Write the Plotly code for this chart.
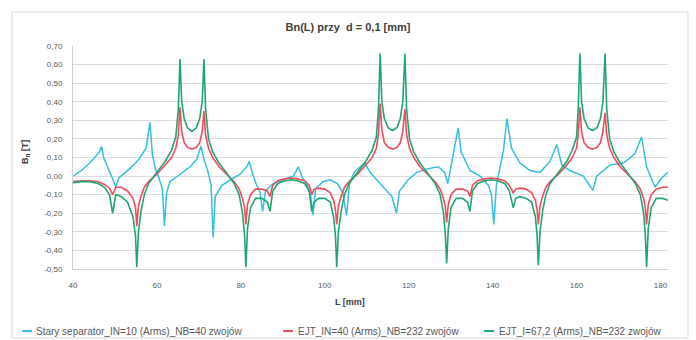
import plotly.graph_objects as go

# ---------------- data ----------------
series_names = [
    "Stary separator_IN=10 (Arms)_NB=40 zwojów",
    "EJT_IN=40 (Arms)_NB=232 zwojów",
    "EJT_I=67,2 (Arms)_NB=232 zwojów",
]

stary_L = [40.0, 42.0, 44.0, 45.5, 46.3, 46.8, 47.3, 48.2, 49.2, 50.2, 50.9, 52.5, 54.5, 56.0,
           57.4, 58.35, 58.9, 59.6, 60.5, 61.3, 61.8, 62.3, 63.1, 65.5, 67.9, 69.5, 70.5, 71.2,
           72.1, 72.9, 73.4, 73.9, 75.5, 77.9, 79.8, 81.4, 82.0, 82.7, 83.6, 84.5, 85.2, 85.9,
           87.7, 90.0, 92.5, 93.7, 94.5, 95.8, 96.6, 97.2, 97.8, 99.5, 101.3, 103.0, 104.3, 105.2,
           105.9, 107.0, 108.4, 109.6, 110.8, 112.0, 114.0, 116.0, 117.1, 117.8, 119.9, 121.9,
           124.6, 127.0, 128.6, 129.3, 129.9, 130.6, 131.2, 131.8, 132.5, 134.6, 137.0, 139.0,
           139.7, 140.3, 140.9, 142.6, 143.4, 144.5, 146.5, 148.9, 151.3, 153.7, 155.3, 156.5,
           158.4, 161.6, 162.8, 163.9, 164.8, 168.0, 171.2, 173.9, 175.5, 176.7, 178.7, 180.3, 181.8]
stary_B = [0.00, 0.03, 0.07, 0.11, 0.13, 0.16, 0.10, 0.05, 0.00, -0.06, -0.01, 0.02, 0.06, 0.10,
           0.15, 0.29, 0.12, 0.04, -0.01, -0.07, -0.27, -0.09, -0.03, 0.01, 0.05, 0.09, 0.16, 0.09,
           0.03, -0.05, -0.33, -0.11, -0.05, -0.015, 0.01, 0.05, 0.08, 0.02, -0.04, -0.08, -0.19, -0.08,
           -0.04, -0.02, 0.00, 0.05, 0.00, -0.05, -0.10, -0.21, -0.07, -0.03, -0.02, -0.04, -0.09, -0.21,
           -0.04, 0.02, 0.05, 0.07, 0.02, -0.01, -0.06, -0.11, -0.20, -0.08, -0.02, 0.02,
           0.04, 0.05, 0.02, -0.04, 0.03, 0.12, 0.18, 0.26, 0.13, 0.03, 0.00, -0.05,
           -0.10, -0.26, -0.05, 0.14, 0.31, 0.15, 0.07, 0.03, 0.02, 0.08, 0.17, 0.06,
           0.03, 0.00, -0.04, -0.077, 0.00, 0.06, 0.07, 0.12, 0.21, 0.05, -0.06, -0.01, 0.02]

ejt_L = [40.0, 42.0, 44.0, 46.0, 47.5, 48.7, 49.45, 50.2, 51.5, 53.0, 54.3, 54.9, 55.2, 55.6,
         56.2, 57.0, 58.0, 60.0, 62.0, 63.5, 64.5, 65.1, 65.5, 65.9, 66.5, 67.3, 68.35, 69.4,
         70.2, 70.8, 71.2, 71.6, 72.3, 73.3, 74.8, 76.5, 78.4, 79.6, 80.4, 80.9, 81.2, 81.6,
         82.3, 83.5, 85.0, 86.3, 86.95, 87.6, 88.8, 90.5, 92.0, 93.5, 95.2, 96.3, 96.9, 97.5,
         98.5, 100.0, 101.3, 102.1, 102.55, 102.85, 103.25, 103.9, 104.7, 105.8, 107.8, 109.8,
         111.3, 112.3, 112.8, 113.2, 113.6, 114.2, 115.1, 116.15, 117.2, 118.0, 118.6, 119.1,
         119.5, 120.2, 121.2, 122.7, 124.4, 126.3, 127.5, 128.3, 128.75, 129.05, 129.45, 130.1,
         131.3, 132.8, 134.0, 134.6, 135.2, 136.4, 138.2, 139.7, 141.2, 142.9, 144.0, 144.9,
         145.5, 146.5, 148.0, 149.3, 150.2, 150.6, 150.9, 151.3, 151.9, 152.7, 153.7, 155.7,
         157.7, 159.0, 160.0, 160.4, 160.8, 161.2, 161.8, 162.7, 163.8, 164.9, 165.7, 166.3,
         166.8, 167.2, 167.9, 168.9, 170.4, 172.1, 174.0, 175.2, 176.0, 176.4, 176.7, 177.1,
         177.8, 179.0, 180.5, 181.8]

ejt40_B = [-0.03, -0.025, -0.025, -0.03, -0.045, -0.065, -0.10, -0.06, -0.06, -0.08, -0.12, -0.17, -0.27, -0.16,
           -0.11, -0.06, -0.03, 0.01, 0.06, 0.10, 0.15, 0.22, 0.37, 0.24, 0.18, 0.155, 0.145, 0.155,
           0.18, 0.24, 0.35, 0.22, 0.15, 0.10, 0.05, 0.01, -0.03, -0.07, -0.12, -0.17, -0.26, -0.15,
           -0.10, -0.07, -0.07, -0.08, -0.11, -0.05, -0.025, -0.015, -0.01, -0.015, -0.025, -0.05, -0.10, -0.07,
           -0.065, -0.07, -0.09, -0.13, -0.18, -0.26, -0.16, -0.11, -0.06, -0.03, 0.01, 0.06,
           0.10, 0.15, 0.23, 0.39, 0.25, 0.18, 0.155, 0.145, 0.155, 0.18, 0.24, 0.36,
           0.22, 0.15, 0.10, 0.05, 0.01, -0.03, -0.07, -0.12, -0.17, -0.25, -0.15, -0.10,
           -0.07, -0.07, -0.08, -0.11, -0.05, -0.025, -0.015, -0.01, -0.015, -0.025, -0.05, -0.09,
           -0.07, -0.065, -0.07, -0.09, -0.13, -0.18, -0.26, -0.16, -0.11, -0.06, -0.03, 0.01,
           0.06, 0.10, 0.15, 0.22, 0.37, 0.24, 0.18, 0.155, 0.145, 0.155, 0.18, 0.24,
           0.34, 0.22, 0.15, 0.10, 0.05, 0.01, -0.03, -0.07, -0.12, -0.17, -0.26, -0.15,
           -0.10, -0.07, -0.06, -0.06]

ejt67_B = [-0.035, -0.03, -0.03, -0.04, -0.06, -0.10, -0.20, -0.10, -0.11, -0.14, -0.22, -0.32, -0.49, -0.30,
           -0.19, -0.10, -0.04, 0.02, 0.08, 0.14, 0.21, 0.36, 0.63, 0.40, 0.31, 0.26, 0.24, 0.26,
           0.31, 0.40, 0.63, 0.36, 0.20, 0.13, 0.07, 0.02, -0.04, -0.10, -0.20, -0.32, -0.49, -0.28,
           -0.17, -0.12, -0.12, -0.14, -0.19, -0.08, -0.04, -0.025, -0.02, -0.025, -0.04, -0.08, -0.19, -0.14,
           -0.12, -0.12, -0.14, -0.22, -0.32, -0.49, -0.30, -0.19, -0.10, -0.04, 0.02, 0.08,
           0.14, 0.21, 0.36, 0.66, 0.40, 0.31, 0.26, 0.245, 0.26, 0.31, 0.40, 0.66,
           0.36, 0.20, 0.13, 0.07, 0.02, -0.04, -0.10, -0.20, -0.32, -0.47, -0.28, -0.17,
           -0.12, -0.12, -0.14, -0.19, -0.08, -0.04, -0.025, -0.02, -0.025, -0.04, -0.08, -0.17,
           -0.12, -0.11, -0.12, -0.14, -0.22, -0.32, -0.48, -0.30, -0.19, -0.10, -0.04, 0.02,
           0.08, 0.14, 0.21, 0.36, 0.66, 0.40, 0.31, 0.26, 0.245, 0.26, 0.31, 0.40,
           0.66, 0.36, 0.20, 0.13, 0.07, 0.02, -0.04, -0.10, -0.20, -0.32, -0.49, -0.28,
           -0.17, -0.12, -0.12, -0.13]

x_ticks = [40, 60, 80, 100, 120, 140, 160, 180]
x_tick_labels = ["40", "60", "80", "100", "120", "140", "160", "180"]
y_ticks = [-0.5, -0.4, -0.3, -0.2, -0.1, 0.0, 0.1, 0.2, 0.3, 0.4, 0.5, 0.6, 0.7]
y_tick_labels = ["-0,50", "-0,40", "-0,30", "-0,20", "-0,10", "0,00", "0,10", "0,20",
                 "0,30", "0,40", "0,50", "0,60", "0,70"]

colors = ["#35bfe0", "#f54a5c", "#1ea672"]

# ---------------- figure ----------------
W, H = 696, 340
ML, MR, MT, MB = 73, 28, 46, 71
pw, ph = W - ML - MR, H - MT - MB
FONT = "Liberation Sans, Arial, sans-serif"


def px2paper_x(px):
    return (px - ML) / pw


def py2paper_y(py):
    return (H - MB - py) / ph


fig = go.Figure()
fig.add_trace(go.Scatter(x=stary_L, y=stary_B, mode="lines", name=series_names[0],
                         line=dict(color=colors[0], width=1.5)))
fig.add_trace(go.Scatter(x=ejt_L, y=ejt40_B, mode="lines", name=series_names[1],
                         line=dict(color=colors[1], width=1.6)))
fig.add_trace(go.Scatter(x=ejt_L, y=ejt67_B, mode="lines", name=series_names[2],
                         line=dict(color=colors[2], width=1.6)))

tick_font = dict(family=FONT, size=8, color="#595959")

# legend drawn as short line samples + labels (Excel-like compact legend)
legend_line_px = [(22, 32), (283, 293), (484, 494)]
legend_text_px = [34, 296, 497]
legend_y_px = 331
shapes = [
    dict(type="rect", xref="paper", yref="paper",
         x0=px2paper_x(12), x1=px2paper_x(688), y0=py2paper_y(338), y1=py2paper_y(12),
         line=dict(color="#d9d9d9", width=1), fillcolor="rgba(0,0,0,0)", layer="below"),
]
annotations = [
    dict(text="<b>L [mm]</b>", xref="paper", yref="paper",
         x=px2paper_x(350), y=py2paper_y(302), xanchor="center", yanchor="middle",
         showarrow=False, font=dict(family=FONT, size=9, color="#404040")),
    dict(text="<b>B<sub>n</sub> [T]</b>", xref="paper", yref="paper",
         x=px2paper_x(25), y=py2paper_y(152), xanchor="center", yanchor="middle", textangle=-90,
         showarrow=False, font=dict(family=FONT, size=9, color="#404040")),
]
for i, name in enumerate(series_names):
    x0, x1 = legend_line_px[i]
    shapes.append(dict(type="line", xref="paper", yref="paper",
                       x0=px2paper_x(x0), x1=px2paper_x(x1),
                       y0=py2paper_y(legend_y_px), y1=py2paper_y(legend_y_px),
                       line=dict(color=colors[i], width=2)))
    annotations.append(dict(text=name, xref="paper", yref="paper",
                            x=px2paper_x(legend_text_px[i]), y=py2paper_y(legend_y_px),
                            xanchor="left", yanchor="middle", showarrow=False,
                            font=dict(family=FONT, size=10, color="#595959")))

fig.update_layout(
    width=W, height=H,
    margin=dict(l=ML, r=MR, t=MT, b=MB, pad=0),
    paper_bgcolor="white", plot_bgcolor="white",
    title=dict(text="<b>Bn(L) przy  d = 0,1 [mm]</b>", x=0.5, xanchor="center",
               y=1 - 27 / H, yanchor="middle",
               font=dict(family=FONT, size=11, color="#404040")),
    xaxis=dict(range=[40, 181.8], tickvals=x_ticks, ticktext=x_tick_labels, tickfont=tick_font,
               showgrid=False, zeroline=False, showline=True, linecolor="#d0d0d0", linewidth=1,
               ticks="", ticklabelstandoff=8),
    yaxis=dict(range=[-0.5, 0.7], tickvals=y_ticks, ticktext=y_tick_labels, tickfont=tick_font,
               showgrid=True, gridcolor="#dcdcdc", gridwidth=1, zeroline=False,
               showline=True, linecolor="#d0d0d0", linewidth=1, ticks="", ticklabelstandoff=8),
    showlegend=False,
    annotations=annotations,
    shapes=shapes,
)

fig.write_html("out.html")
